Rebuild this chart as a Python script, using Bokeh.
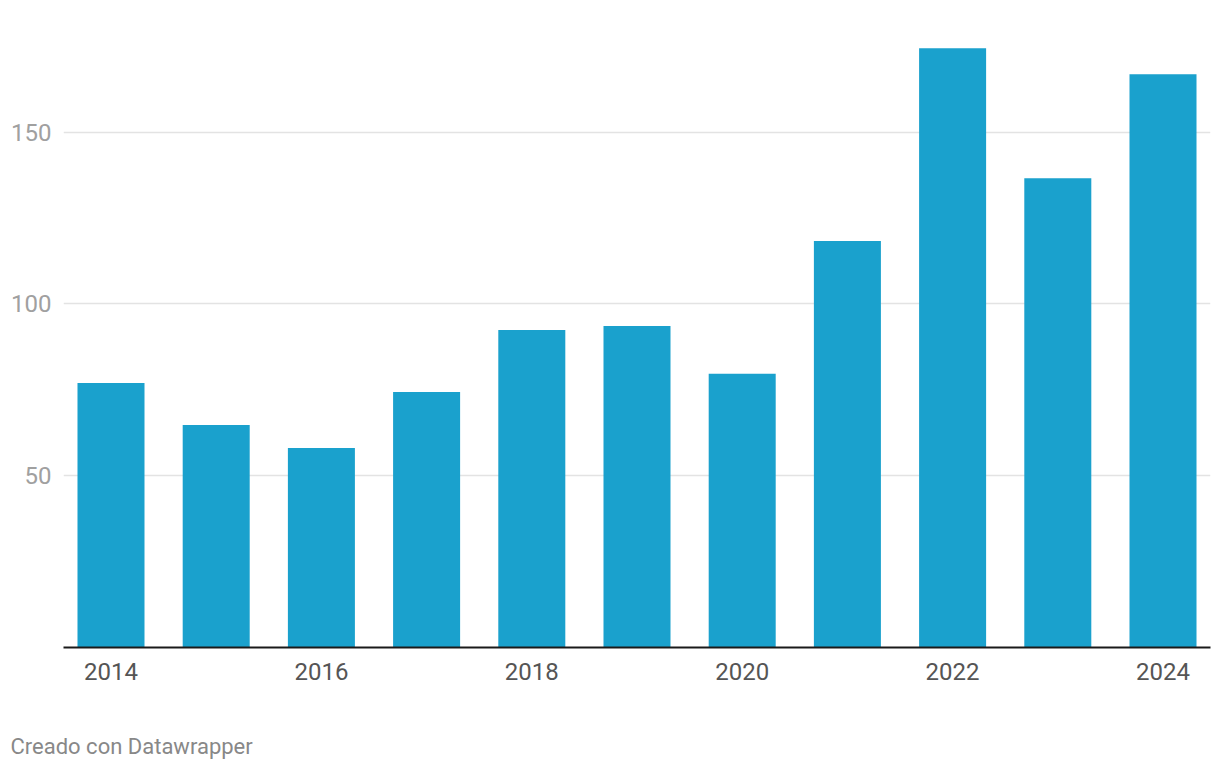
from bokeh.plotting import figure
from bokeh.models import FixedTicker, Range1d, Title, ColumnDataSource
from bokeh.embed import file_html
from bokeh.resources import INLINE

years = [2014, 2015, 2016, 2017, 2018, 2019, 2020, 2021, 2022, 2023, 2024]
values = [77.0, 64.8, 58.1, 74.4, 92.4, 93.6, 79.7, 118.3, 174.4, 136.6, 166.9]
x_ticks = [2014, 2016, 2018, 2020, 2022, 2024]
y_ticks = [50, 100, 150]
footer = "Creado con Datawrapper"

src = ColumnDataSource(dict(year=years, value=values))

p = figure(width=1212, height=768, output_backend="svg", toolbar_location=None,
           x_range=Range1d(2014 - 0.4515, 2024 + 0.4515), y_range=Range1d(0, 179.6),
           min_border_left=63, min_border_right=2, min_border_top=30, min_border_bottom=121)
p.outline_line_color = None
p.background_fill_color = "white"
p.border_fill_color = "white"

p.vbar(x="year", top="value", width=0.637, source=src, color="#1aa1cd", line_color=None)

# x axis
xa = p.xaxis[0]
xa.ticker = FixedTicker(ticks=x_ticks)
xa.axis_line_color = "#1a1a1a"
xa.axis_line_width = 2
xa.major_tick_line_color = None
xa.minor_tick_line_color = None
xa.major_label_text_font = "Roboto"
xa.major_label_text_font_size = "24px"
xa.major_label_text_color = "#555555"
xa.major_label_standoff = 9

# y axis
ya = p.yaxis[0]
ya.ticker = FixedTicker(ticks=y_ticks)
ya.axis_line_color = None
ya.major_tick_line_color = None
ya.minor_tick_line_color = None
ya.major_label_text_font = "Roboto"
ya.major_label_text_font_size = "24px"
ya.major_label_text_color = "#a0a0a0"
ya.major_label_standoff = 6

p.xgrid.grid_line_color = None
p.ygrid.ticker = FixedTicker(ticks=y_ticks)
p.ygrid.grid_line_color = "#e3e3e3"
p.ygrid.grid_line_width = 1.5

# spacer between axis and footer
p.add_layout(Title(text=" ", align="left", text_font="Roboto", text_font_size="22px",
                   standoff=17), "below")
p.add_layout(Title(text=footer, align="left", offset=-53, text_font="Roboto",
                   text_font_size="22px", text_font_style="normal", text_color="#888888",
                   standoff=10), "below")

open("out.html", "w").write(file_html(p, INLINE))
